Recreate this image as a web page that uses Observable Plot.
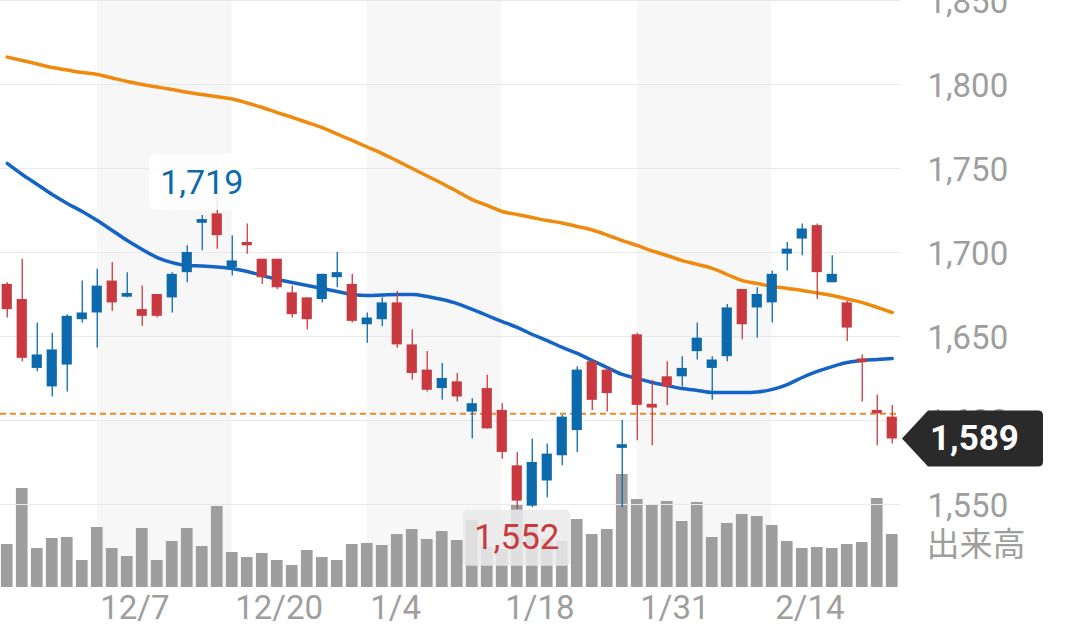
<!DOCTYPE html>
<html>
<head>
<meta charset="utf-8">
<script src="https://cdn.jsdelivr.net/npm/d3@7"></script>
<script src="https://cdn.jsdelivr.net/npm/@observablehq/plot@0.6"></script>
<style>
  html, body { margin: 0; padding: 0; background: #fff; }
  #chart { position: relative; width: 1080px; height: 639px; overflow: hidden; font-family: Roboto, "Noto Sans", sans-serif; }
  #chart svg { position: absolute; left: 0; top: 0; }
</style>
</head>
<body>
<div id="chart"></div>
<script>
// ---- data ----
const dates = ["11/29","11/30","12/1","12/2","12/3","12/6","12/7","12/8","12/9","12/10",
  "12/13","12/14","12/15","12/16","12/17","12/20","12/21","12/22","12/23","12/24",
  "12/27","12/28","12/29","12/30","1/4","1/5","1/6","1/7","1/11","1/12",
  "1/13","1/14","1/17","1/18","1/19","1/20","1/21","1/24","1/25","1/26",
  "1/27","1/28","1/31","2/1","2/2","2/3","2/4","2/7","2/8","2/9",
  "2/10","2/14","2/15","2/16","2/17","2/18","2/21","2/22","2/24","2/25"];
const open  = [1681,1672,1631,1620,1633,1660,1664,1683,1674,1666,1675,1673,1688,1718,1723,1691,1706,1696,1696,1676,
  1673,1672,1685,1681,1657,1660,1670,1645,1630,1619,1623,1605,1619,1606,1573,1549,1564,1579,1594,1635,
  1630,1584,1651,1609,1626,1626,1641,1631,1638,1678,1667,1670,1699,1708,1716,1682,1670,1636,1606,1602];
const high  = [1682,1696,1658,1652,1663,1683,1690,1694,1688,1680,1675,1688,1704,1722,1732,1710,1717,1696,1696,1680,
  1673,1687,1700,1687,1664,1673,1677,1654,1641,1634,1628,1613,1627,1610,1581,1589,1586,1603,1632,1635,
  1631,1600,1652,1624,1635,1638,1658,1638,1669,1678,1679,1689,1706,1717,1717,1698,1671,1639,1615,1609];
const low   = [1661,1635,1629,1614,1617,1658,1643,1665,1673,1656,1661,1664,1682,1701,1702,1686,1699,1681,1678,1661,
  1654,1670,1679,1658,1646,1656,1643,1624,1617,1612,1611,1589,1595,1577,1547,1548,1554,1573,1581,1606,
  1605,1548,1588,1585,1609,1620,1636,1612,1635,1648,1649,1658,1689,1698,1672,1682,1647,1611,1585,1586];
const close = [1666,1637,1639,1642,1662,1664,1680,1670,1675,1662,1662,1687,1700,1719,1710,1695,1704,1685,1679,1663,
  1660,1687,1688,1659,1661,1670,1645,1628,1618,1625,1614,1610,1595,1581,1552,1575,1580,1602,1630,1612,
  1616,1585,1609,1608,1620,1631,1649,1636,1667,1657,1675,1687,1702,1714,1688,1687,1655,1635,1604,1589];
const volume = [43,99,39,49,50,27,60,39,31,59,27,46,59,41,81,35,30,34,27,22,
  37,30,27,43,44,42,53,58,48,56,47,67,40,38,82,62,48,46,68,53,
  58,113,88,82,86,66,85,50,64,73,71,62,46,39,40,39,43,45,89,53];
const ma25 = [1753.0,1746.4,1740.5,1734.5,1729.2,1724.4,1719.0,1713.1,1707.1,1701.8,
  1697.0,1694.0,1692.3,1692.0,1691.4,1690.5,1688.7,1686.3,1683.9,1682.1,
  1680.4,1678.6,1676.8,1675.0,1674.4,1674.7,1675.0,1675.0,1673.8,1672.0,
  1669.6,1666.1,1662.5,1658.9,1655.4,1651.2,1647.6,1643.5,1639.9,1635.7,
  1631.5,1627.4,1625.0,1622.6,1620.8,1619.0,1617.9,1616.7,1616.7,1616.7,
  1617.0,1618.5,1621.4,1625.6,1629.2,1632.1,1634.5,1635.7,1636.3,1636.9];
const ma75 = [1816.3,1814.3,1812.2,1810.1,1808.6,1807.1,1806.0,1803.9,1801.8,1800.0,
  1798.5,1797.0,1795.4,1794.0,1792.7,1791.4,1789.0,1786.3,1783.3,1780.4,
  1777.4,1774.4,1770.5,1766.7,1762.8,1758.9,1754.5,1750.0,1745.5,1741.1,
  1736.3,1731.5,1728.0,1724.4,1722.6,1720.8,1719.0,1717.6,1715.5,1713.4,
  1710.4,1707.1,1704.2,1700.9,1698.2,1695.2,1692.9,1690.5,1686.9,1683.3,
  1681.5,1679.8,1678.6,1677.4,1675.9,1674.4,1672.3,1670.2,1667.3,1664.3];
const tickIdx = [6, 15, 24, 33, 42, 51];
const yTicks = [1550, 1600, 1650, 1700, 1750, 1800, 1850];
const volumeLabel = "出来高";

// ---- styles ----
const UP = "#0c6aac", DOWN = "#c93a40";
const GREY = "#9e9e9e";
const W = 1080, H = 639, PLOT_R = 180;
const xDomain = [-0.45, dates.length - 0.45];

const rows = dates.map((d, i) => ({
  i, date: d, open: open[i], high: high[i], low: low[i], close: close[i],
  volume: volume[i], ma25: ma25[i], ma75: ma75[i],
  color: close[i] >= open[i] ? UP : DOWN
}));
const bands = tickIdx.filter((_, k) => k % 2 === 0).map((s, k) => ({s, e: tickIdx[k * 2 + 1]}));
const prevClose = close[close.length - 2];
const lastClose = close[close.length - 1];
const iMax = d3.maxIndex(close), iMin = d3.minIndex(close);

const chart = document.getElementById("chart");

// ---- bottom layer: bands + volume ----
const volPlot = Plot.plot({
  width: W, height: H,
  marginLeft: 0, marginRight: PLOT_R, marginTop: 0, marginBottom: 52,
  x: {domain: xDomain, axis: null},
  y: {domain: [0, 587], axis: null},
  marks: [
    Plot.rect(bands, {x1: "s", x2: "e", y1: 0, y2: 587, fill: "#f7f7f7"}),
    Plot.rect(rows, {x1: d => d.i - 0.39, x2: d => d.i + 0.39, y1: 0, y2: "volume", fill: GREY})
  ]
});
chart.appendChild(volPlot);

// ---- top layer: price ----
const pricePlot = Plot.plot({
  width: W, height: H,
  marginLeft: 0, marginRight: PLOT_R, marginTop: 0, marginBottom: 54,
  style: {background: "transparent", fontFamily: "Roboto, sans-serif", fontSize: "33px", overflow: "visible"},
  x: {domain: xDomain, axis: null},
  y: {domain: [1850 - 585 / 1.68, 1850], axis: null},
  color: {type: "identity"},
  marks: [
    Plot.gridY(yTicks, {stroke: "#e9e9e9", strokeOpacity: 1, strokeWidth: 1.2}),
    Plot.axisY(yTicks, {anchor: "right", tickSize: 0, tickPadding: 27, textAnchor: "start",
      tickFormat: d3.format(","), color: GREY, fontSize: 33, dy: 2, label: null}),
    Plot.text(tickIdx, {x: d => d, text: d => dates[d], frameAnchor: "bottom", lineAnchor: "middle",
      dy: 23, dx: 3, textAnchor: "start", fill: GREY, fontSize: 33}),
    Plot.text([volumeLabel], {frameAnchor: "bottom-right", lineAnchor: "middle", dx: 26, dy: -40,
      textAnchor: "start", fill: GREY, fontSize: 33, fontFamily: "'Noto Sans CJK JP', sans-serif"}),
    Plot.line(rows, {x: "i", y: "ma75", stroke: "#ef8a0e", strokeWidth: 3.5, curve: "monotone-x"}),
    Plot.line(rows, {x: "i", y: "ma25", stroke: "#1464c6", strokeWidth: 3.5, curve: "monotone-x"}),
    Plot.ruleY([prevClose], {stroke: "#ea8a2c", strokeWidth: 2, strokeDasharray: "6,4"}),
    Plot.ruleX(rows, {x: "i", y1: "low", y2: "high", stroke: "color", strokeWidth: 1.3}),
    Plot.rect(rows, {x1: d => d.i - 0.34, x2: d => d.i + 0.34,
      y1: d => Math.min(d.open, d.close) - (Math.abs(d.open - d.close) < 1.2 ? 0.6 : 0),
      y2: d => Math.max(d.open, d.close) + (Math.abs(d.open - d.close) < 1.2 ? 0.6 : 0),
      fill: "color"})
  ]
});
chart.appendChild(pricePlot);

// ---- annotations using the plot's scales ----
const xs = pricePlot.scale("x"), ys = pricePlot.scale("y");
const svg = d3.select(pricePlot);
const fmt = d3.format(",");

function boxLabel(i, above, color, bg, fs) {
  const cx = xs.apply(i);
  const cy = ys.apply(close[i]) + (above ? -38 : 37);
  const g = svg.append("g");
  const rect = g.append("rect").attr("fill", bg).attr("rx", 5);
  const t = g.append("text").attr("x", cx).attr("y", cy).attr("text-anchor", "middle")
    .attr("dominant-baseline", "central").attr("fill", color)
    .style("font-size", fs + "px").style("font-family", "Roboto, sans-serif").text(fmt(close[i]));
  const bb = t.node().getBBox();
  const padX = 11, h = 56;
  rect.attr("x", bb.x - padX).attr("width", bb.width + 2 * padX).attr("y", cy - h / 2).attr("height", h);
}
boxLabel(iMax, true, UP, "rgba(255,255,255,0.85)", 34);
boxLabel(iMin, false, DOWN, "rgba(234,234,234,0.85)", 35);

// last price marker
{
  const yy = ys.apply(lastClose);
  const tip = xs.apply(xDomain[1]) + 2, bx = tip + 26, right = 1043, hh = 28;
  svg.append("path")
    .attr("d", `M${tip},${yy} L${bx},${yy - hh} H${right - 5} Q${right},${yy - hh} ${right},${yy - hh + 5} V${yy + hh - 5} Q${right},${yy + hh} ${right - 5},${yy + hh} H${bx} Z`)
    .attr("fill", "#2a2a2a");
  svg.append("text").attr("x", bx + 2).attr("y", yy).attr("dominant-baseline", "central")
    .attr("text-anchor", "start")
    .attr("fill", "#fff").style("font-size", "35px").style("font-weight", "bold")
    .style("font-family", "Roboto, sans-serif").text(fmt(lastClose));
}
</script>
</body>
</html>
